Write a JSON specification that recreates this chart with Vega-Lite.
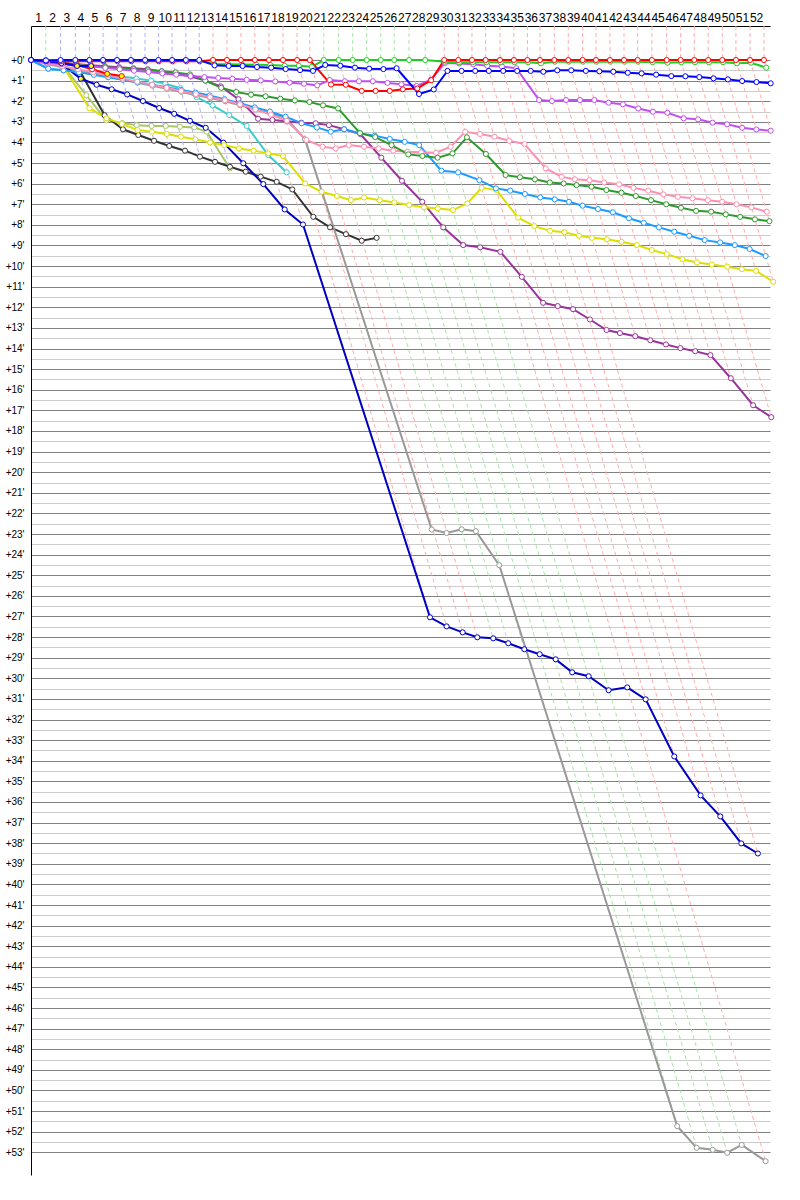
{
"$schema": "https://vega.github.io/schema/vega-lite/v6.json",
"width": 739, "height": 1149,
"padding": {"left": 31, "top": 26, "right": 30, "bottom": 25},
"autosize": {"type": "none"},
"background": "white",
"config": {"view": {"stroke": null}, "font": "Liberation Sans"},
"datasets": {
"vgrid": [{"t":1},{"t":2},{"t":3},{"t":4},{"t":5},{"t":6},{"t":7},{"t":8},{"t":9},{"t":10},{"t":11},{"t":12},{"t":13},{"t":14},{"t":15},{"t":16},{"t":17},{"t":18},{"t":19},{"t":20},{"t":21},{"t":22},{"t":23},{"t":24},{"t":25},{"t":26},{"t":27},{"t":28},{"t":29},{"t":30},{"t":31},{"t":32},{"t":33},{"t":34},{"t":35},{"t":36},{"t":37},{"t":38},{"t":39},{"t":40},{"t":41},{"t":42},{"t":43},{"t":44},{"t":45},{"t":46},{"t":47},{"t":48},{"t":49},{"t":50},{"t":51},{"t":52}],
"dash": [
{"n":1,"k":"G","t":1.05,"g":-1.65},{"n":1,"k":"G","t":1.05,"g":0},{"n":1,"k":"G","t":1.24,"g":0.44},
{"n":2,"k":"B","t":2.1,"g":-1.65},{"n":2,"k":"B","t":2.1,"g":0},{"n":2,"k":"B","t":2.31,"g":0.5},
{"n":3,"k":"B","t":3.15,"g":-1.65},{"n":3,"k":"B","t":3.15,"g":0},{"n":3,"k":"B","t":4.15,"g":2.34},
{"n":4,"k":"B","t":4.15,"g":-1.65},{"n":4,"k":"B","t":4.15,"g":0},{"n":4,"k":"B","t":5.35,"g":2.93},
{"n":5,"k":"B","t":5.12,"g":-1.65},{"n":5,"k":"B","t":5.12,"g":0},{"n":5,"k":"B","t":6.53,"g":3.36},
{"n":6,"k":"B","t":6.11,"g":-1.65},{"n":6,"k":"B","t":6.11,"g":0},{"n":6,"k":"B","t":7.62,"g":3.64},
{"n":7,"k":"B","t":7.1,"g":-1.65},{"n":7,"k":"B","t":7.1,"g":0},{"n":7,"k":"B","t":8.74,"g":3.92},
{"n":8,"k":"B","t":8.1,"g":-1.65},{"n":8,"k":"B","t":8.1,"g":0},{"n":8,"k":"B","t":9.82,"g":4.17},
{"n":9,"k":"B","t":9.05,"g":-1.65},{"n":9,"k":"B","t":9.05,"g":0},{"n":9,"k":"B","t":10.94,"g":4.4},
{"n":10,"k":"B","t":10.02,"g":-1.65},{"n":10,"k":"B","t":10.02,"g":0},{"n":10,"k":"B","t":12.0,"g":4.69},
{"n":11,"k":"B","t":11.0,"g":-1.65},{"n":11,"k":"B","t":11.0,"g":0},{"n":11,"k":"B","t":13.07,"g":4.94},
{"n":12,"k":"B","t":11.95,"g":-1.65},{"n":12,"k":"B","t":11.95,"g":0},{"n":12,"k":"B","t":14.13,"g":5.26},
{"n":13,"k":"R","t":12.93,"g":-1.65},{"n":13,"k":"R","t":12.93,"g":0},{"n":13,"k":"R","t":15.25,"g":5.42},
{"n":14,"k":"R","t":13.92,"g":-1.65},{"n":14,"k":"R","t":13.92,"g":0},{"n":14,"k":"R","t":16.5,"g":6.02},
{"n":15,"k":"R","t":14.91,"g":-1.65},{"n":15,"k":"R","t":14.91,"g":0},{"n":15,"k":"R","t":18.02,"g":7.25},
{"n":16,"k":"R","t":15.9,"g":-1.65},{"n":16,"k":"R","t":15.9,"g":0},{"n":16,"k":"R","t":19.32,"g":7.98},
{"n":17,"k":"R","t":16.9,"g":-1.65},{"n":17,"k":"R","t":16.9,"g":0},{"n":17,"k":"R","t":28.34,"g":27.04},
{"n":18,"k":"R","t":17.9,"g":-1.65},{"n":18,"k":"R","t":17.9,"g":0},{"n":18,"k":"R","t":29.52,"g":27.48},
{"n":19,"k":"R","t":18.9,"g":-1.65},{"n":19,"k":"R","t":18.9,"g":0},{"n":19,"k":"R","t":30.66,"g":27.77},
{"n":20,"k":"R","t":19.8,"g":-1.65},{"n":20,"k":"R","t":19.8,"g":0},{"n":20,"k":"R","t":31.7,"g":28.01},
{"n":21,"k":"G","t":20.8,"g":-1.65},{"n":21,"k":"G","t":20.8,"g":0},{"n":21,"k":"G","t":32.83,"g":28.06},
{"n":22,"k":"G","t":21.85,"g":-1.65},{"n":22,"k":"G","t":21.85,"g":0},{"n":22,"k":"G","t":33.9,"g":28.3},
{"n":23,"k":"G","t":22.85,"g":-1.65},{"n":23,"k":"G","t":22.85,"g":0},{"n":23,"k":"G","t":35.04,"g":28.59},
{"n":24,"k":"G","t":23.84,"g":-1.65},{"n":24,"k":"G","t":23.84,"g":0},{"n":24,"k":"G","t":45.9,"g":51.73},
{"n":25,"k":"G","t":24.84,"g":-1.65},{"n":25,"k":"G","t":24.84,"g":0},{"n":25,"k":"G","t":47.28,"g":52.78},
{"n":26,"k":"G","t":25.8,"g":-1.65},{"n":26,"k":"G","t":25.8,"g":0},{"n":26,"k":"G","t":48.42,"g":52.88},
{"n":27,"k":"G","t":26.85,"g":-1.65},{"n":27,"k":"G","t":26.85,"g":0},{"n":27,"k":"G","t":49.45,"g":53.02},
{"n":28,"k":"G","t":28.0,"g":-1.65},{"n":28,"k":"G","t":28.0,"g":0},{"n":28,"k":"G","t":50.48,"g":52.64},
{"n":29,"k":"R","t":29.35,"g":-1.65},{"n":29,"k":"R","t":29.35,"g":0},{"n":29,"k":"R","t":52.18,"g":53.43},
{"n":30,"k":"R","t":30.35,"g":-1.65},{"n":30,"k":"R","t":30.35,"g":0},{"n":30,"k":"R","t":43.66,"g":31.02},
{"n":31,"k":"R","t":31.32,"g":-1.65},{"n":31,"k":"R","t":31.32,"g":0},{"n":31,"k":"R","t":45.69,"g":33.79},
{"n":32,"k":"R","t":32.29,"g":-1.65},{"n":32,"k":"R","t":32.29,"g":0},{"n":32,"k":"R","t":47.56,"g":35.68},
{"n":33,"k":"R","t":33.31,"g":-1.65},{"n":33,"k":"R","t":33.31,"g":0},{"n":33,"k":"R","t":48.96,"g":36.7},
{"n":34,"k":"R","t":34.3,"g":-1.65},{"n":34,"k":"R","t":34.3,"g":0},{"n":34,"k":"R","t":50.45,"g":38.01},
{"n":35,"k":"R","t":35.26,"g":-1.65},{"n":35,"k":"R","t":35.26,"g":0},{"n":35,"k":"R","t":51.63,"g":38.5},
{"n":36,"k":"R","t":36.15,"g":-1.65},{"n":36,"k":"R","t":36.15,"g":0},{"n":36,"k":"R","t":41.83,"g":13.25},
{"n":37,"k":"R","t":37.17,"g":-1.65},{"n":37,"k":"R","t":37.17,"g":0},{"n":37,"k":"R","t":42.92,"g":13.4},
{"n":38,"k":"R","t":38.16,"g":-1.65},{"n":38,"k":"R","t":38.16,"g":0},{"n":38,"k":"R","t":43.99,"g":13.6},
{"n":39,"k":"R","t":39.18,"g":-1.65},{"n":39,"k":"R","t":39.18,"g":0},{"n":39,"k":"R","t":45.1,"g":13.8},
{"n":40,"k":"R","t":40.13,"g":-1.65},{"n":40,"k":"R","t":40.13,"g":0},{"n":40,"k":"R","t":46.13,"g":13.98},
{"n":41,"k":"R","t":41.12,"g":-1.65},{"n":41,"k":"R","t":41.12,"g":0},{"n":41,"k":"R","t":47.18,"g":14.13},
{"n":42,"k":"R","t":42.12,"g":-1.65},{"n":42,"k":"R","t":42.12,"g":0},{"n":42,"k":"R","t":48.26,"g":14.32},
{"n":43,"k":"R","t":43.09,"g":-1.65},{"n":43,"k":"R","t":43.09,"g":0},{"n":43,"k":"R","t":49.71,"g":15.44},
{"n":44,"k":"R","t":44.1,"g":-1.65},{"n":44,"k":"R","t":44.1,"g":0},{"n":44,"k":"R","t":51.29,"g":16.75},
{"n":45,"k":"R","t":45.15,"g":-1.65},{"n":45,"k":"R","t":45.15,"g":0},{"n":45,"k":"R","t":52.58,"g":17.33},
{"n":46,"k":"R","t":46.14,"g":-1.65},{"n":46,"k":"R","t":46.14,"g":0},{"n":46,"k":"R","t":50.49,"g":10.15},
{"n":47,"k":"R","t":47.11,"g":-1.65},{"n":47,"k":"R","t":47.11,"g":0},{"n":47,"k":"R","t":51.5,"g":10.23},
{"n":48,"k":"R","t":48.1,"g":-1.65},{"n":48,"k":"R","t":48.1,"g":0},{"n":48,"k":"R","t":52.72,"g":10.76},
{"n":49,"k":"R","t":49.1,"g":-1.65},{"n":49,"k":"R","t":49.1,"g":0},{"n":49,"k":"R","t":52.45,"g":7.82},
{"n":50,"k":"R","t":50.07,"g":-1.65},{"n":50,"k":"R","t":50.07,"g":0},{"n":50,"k":"R","t":51.52,"g":3.37},
{"n":51,"k":"R","t":51.07,"g":-1.65},{"n":51,"k":"R","t":51.07,"g":0},{"n":51,"k":"R","t":52.54,"g":3.43},
{"n":52,"k":"R","t":52.06,"g":-1.65},{"n":52,"k":"R","t":52.06,"g":0},{"n":52,"k":"R","t":52.54,"g":1.13}
],
"cars": [
{"c":"O","t":0,"g":0},{"c":"O","t":1.07,"g":0.05},{"c":"O","t":2.19,"g":0.2},{"c":"O","t":3.93,"g":1.71},{"c":"O","t":5.35,"g":2.93},{"c":"O","t":6.48,"g":3.06},{"c":"O","t":7.51,"g":3.16},{"c":"O","t":8.57,"g":3.2},{"c":"O","t":9.57,"g":3.2},{"c":"O","t":10.58,"g":3.24},{"c":"O","t":11.6,"g":3.27},{"c":"O","t":12.48,"g":3.48},{"c":"O","t":14.13,"g":5.26},
{"c":"C","t":0,"g":0},{"c":"C","t":1.24,"g":0.44},{"c":"C","t":2.31,"g":0.5},{"c":"C","t":3.39,"g":0.55},{"c":"C","t":4.41,"g":0.6},{"c":"C","t":5.42,"g":0.7},{"c":"C","t":6.45,"g":0.8},{"c":"C","t":7.49,"g":0.9},{"c":"C","t":8.53,"g":1.0},{"c":"C","t":9.54,"g":1.15},{"c":"C","t":10.61,"g":1.37},{"c":"C","t":11.77,"g":1.8},{"c":"C","t":12.89,"g":2.2},{"c":"C","t":14.08,"g":2.67},{"c":"C","t":15.32,"g":3.2},{"c":"C","t":16.85,"g":4.61},{"c":"C","t":18.16,"g":5.45},
{"c":"K","t":0,"g":0},{"c":"K","t":1.07,"g":0.05},{"c":"K","t":2.16,"g":0.15},{"c":"K","t":3.28,"g":0.3},{"c":"K","t":5.23,"g":2.68},{"c":"K","t":6.53,"g":3.36},{"c":"K","t":7.62,"g":3.64},{"c":"K","t":8.74,"g":3.92},{"c":"K","t":9.82,"g":4.17},{"c":"K","t":10.94,"g":4.4},{"c":"K","t":12.0,"g":4.69},{"c":"K","t":13.07,"g":4.94},{"c":"K","t":14.13,"g":5.18},{"c":"K","t":15.25,"g":5.42},{"c":"K","t":16.31,"g":5.66},{"c":"K","t":17.45,"g":5.91},{"c":"K","t":18.56,"g":6.28},{"c":"K","t":20.05,"g":7.61},{"c":"K","t":21.24,"g":8.12},{"c":"K","t":22.37,"g":8.45},{"c":"K","t":23.49,"g":8.77},{"c":"K","t":24.55,"g":8.63},
{"c":"GR","t":0,"g":0},{"c":"GR","t":1.14,"g":0.2},{"c":"GR","t":2.25,"g":0.35},{"c":"GR","t":3.36,"g":0.5},{"c":"GR","t":4.43,"g":0.65},{"c":"GR","t":5.46,"g":0.8},{"c":"GR","t":6.52,"g":0.95},{"c":"GR","t":7.57,"g":1.1},{"c":"GR","t":8.64,"g":1.25},{"c":"GR","t":9.65,"g":1.4},{"c":"GR","t":10.68,"g":1.55},{"c":"GR","t":11.73,"g":1.7},{"c":"GR","t":12.74,"g":1.85},{"c":"GR","t":13.79,"g":2.0},{"c":"GR","t":14.86,"g":2.2},{"c":"GR","t":15.94,"g":2.4},{"c":"GR","t":17.02,"g":2.6},{"c":"GR","t":18.1,"g":2.8},{"c":"GR","t":19.46,"g":3.85},{"c":"GR","t":28.46,"g":22.78},{"c":"GR","t":29.52,"g":22.95},{"c":"GR","t":30.59,"g":22.77},{"c":"GR","t":31.6,"g":22.86},{"c":"GR","t":33.26,"g":24.51},{"c":"GR","t":45.9,"g":51.73},{"c":"GR","t":47.28,"g":52.78},{"c":"GR","t":48.42,"g":52.88},{"c":"GR","t":49.45,"g":53.02},{"c":"GR","t":50.48,"g":52.64},{"c":"GR","t":52.18,"g":53.43},
{"c":"N","t":0,"g":0},{"c":"N","t":1.07,"g":0.05},{"c":"N","t":2.19,"g":0.2},{"c":"N","t":3.54,"g":0.91,"f":1},{"c":"N","t":4.66,"g":1.2},{"c":"N","t":5.73,"g":1.42},{"c":"N","t":6.83,"g":1.67},{"c":"N","t":7.95,"g":1.99},{"c":"N","t":9.1,"g":2.33},{"c":"N","t":10.17,"g":2.61},{"c":"N","t":11.29,"g":2.95},{"c":"N","t":12.41,"g":3.29},{"c":"N","t":13.67,"g":4.01},{"c":"N","t":15.08,"g":5.01},{"c":"N","t":16.5,"g":6.02},{"c":"N","t":18.02,"g":7.25},{"c":"N","t":19.32,"g":7.98},{"c":"N","t":28.34,"g":27.04},{"c":"N","t":29.52,"g":27.48},{"c":"N","t":30.66,"g":27.77},{"c":"N","t":31.7,"g":28.01},{"c":"N","t":32.83,"g":28.06},{"c":"N","t":33.9,"g":28.3},{"c":"N","t":35.04,"g":28.59},{"c":"N","t":36.13,"g":28.83},{"c":"N","t":37.27,"g":29.08},{"c":"N","t":38.44,"g":29.71},{"c":"N","t":39.61,"g":29.9},{"c":"N","t":41.03,"g":30.58},{"c":"N","t":42.35,"g":30.44},{"c":"N","t":43.66,"g":31.02},{"c":"N","t":45.69,"g":33.79},{"c":"N","t":47.56,"g":35.68},{"c":"N","t":48.96,"g":36.7},{"c":"N","t":50.45,"g":38.01},{"c":"N","t":51.63,"g":38.5},
{"c":"PU","t":0,"g":0},{"c":"PU","t":1.09,"g":0.1},{"c":"PU","t":2.16,"g":0.15},{"c":"PU","t":3.24,"g":0.2},{"c":"PU","t":4.26,"g":0.25},{"c":"PU","t":5.25,"g":0.3},{"c":"PU","t":6.26,"g":0.35},{"c":"PU","t":7.27,"g":0.4},{"c":"PU","t":8.29,"g":0.45},{"c":"PU","t":9.29,"g":0.55},{"c":"PU","t":10.3,"g":0.65},{"c":"PU","t":11.34,"g":0.8},{"c":"PU","t":12.38,"g":1.0},{"c":"PU","t":13.48,"g":1.28},{"c":"PU","t":14.74,"g":1.9},{"c":"PU","t":16.13,"g":2.85},{"c":"PU","t":17.15,"g":2.91},{"c":"PU","t":18.17,"g":2.97},{"c":"PU","t":19.2,"g":3.04},{"c":"PU","t":20.22,"g":3.07},{"c":"PU","t":21.16,"g":3.16},{"c":"PU","t":22.24,"g":3.36},{"c":"PU","t":23.39,"g":3.59},{"c":"PU","t":24.88,"g":4.74},{"c":"PU","t":26.35,"g":5.86},{"c":"PU","t":27.79,"g":6.88},{"c":"PU","t":29.28,"g":8.12},{"c":"PU","t":30.7,"g":8.98},{"c":"PU","t":31.9,"g":9.09},{"c":"PU","t":33.34,"g":9.31},{"c":"PU","t":34.86,"g":10.52},{"c":"PU","t":36.37,"g":11.78},{"c":"PU","t":37.41,"g":11.94},{"c":"PU","t":38.5,"g":12.09},{"c":"PU","t":39.7,"g":12.59},{"c":"PU","t":40.88,"g":13.1},{"c":"PU","t":41.83,"g":13.25},{"c":"PU","t":42.92,"g":13.4},{"c":"PU","t":43.99,"g":13.6},{"c":"PU","t":45.1,"g":13.8},{"c":"PU","t":46.13,"g":13.98},{"c":"PU","t":47.18,"g":14.13},{"c":"PU","t":48.26,"g":14.32},{"c":"PU","t":49.71,"g":15.44},{"c":"PU","t":51.29,"g":16.75},{"c":"PU","t":52.58,"g":17.33},
{"c":"Y","t":0,"g":0},{"c":"Y","t":1.07,"g":0.05},{"c":"Y","t":2.19,"g":0.2},{"c":"Y","t":4.15,"g":2.34},{"c":"Y","t":5.36,"g":2.83},{"c":"Y","t":6.45,"g":3.1},{"c":"Y","t":7.57,"g":3.4},{"c":"Y","t":8.59,"g":3.48},{"c":"Y","t":9.64,"g":3.59},{"c":"Y","t":10.65,"g":3.72},{"c":"Y","t":11.67,"g":3.85},{"c":"Y","t":12.72,"g":4.0},{"c":"Y","t":13.72,"g":4.13},{"c":"Y","t":14.77,"g":4.29},{"c":"Y","t":15.81,"g":4.4},{"c":"Y","t":16.85,"g":4.53},{"c":"Y","t":17.9,"g":4.66},{"c":"Y","t":19.47,"g":5.99},{"c":"Y","t":20.64,"g":6.39},{"c":"Y","t":21.73,"g":6.6},{"c":"Y","t":22.72,"g":6.8},{"c":"Y","t":23.66,"g":6.67},{"c":"Y","t":24.77,"g":6.8},{"c":"Y","t":25.81,"g":6.91},{"c":"Y","t":26.86,"g":7.04},{"c":"Y","t":27.91,"g":7.15},{"c":"Y","t":28.89,"g":7.2},{"c":"Y","t":29.97,"g":7.28},{"c":"Y","t":30.99,"g":6.96},{"c":"Y","t":32.01,"g":6.2},{"c":"Y","t":33.06,"g":6.31},{"c":"Y","t":34.6,"g":7.65},{"c":"Y","t":35.75,"g":8.06},{"c":"Y","t":36.87,"g":8.29},{"c":"Y","t":37.89,"g":8.36},{"c":"Y","t":38.92,"g":8.53},{"c":"Y","t":39.85,"g":8.63},{"c":"Y","t":40.9,"g":8.7},{"c":"Y","t":41.94,"g":8.82},{"c":"Y","t":43.03,"g":8.98},{"c":"Y","t":44.09,"g":9.22},{"c":"Y","t":45.16,"g":9.42},{"c":"Y","t":46.27,"g":9.67},{"c":"Y","t":47.3,"g":9.82},{"c":"Y","t":48.36,"g":9.92},{"c":"Y","t":49.45,"g":10.03},{"c":"Y","t":50.49,"g":10.15},{"c":"Y","t":51.5,"g":10.23},{"c":"Y","t":52.72,"g":10.76},
{"c":"LB","t":0,"g":0},{"c":"LB","t":1.23,"g":0.42},{"c":"LB","t":2.31,"g":0.5},{"c":"LB","t":3.41,"g":0.6},{"c":"LB","t":4.46,"g":0.72},{"c":"LB","t":5.48,"g":0.84},{"c":"LB","t":6.52,"g":0.96},{"c":"LB","t":7.56,"g":1.08},{"c":"LB","t":8.61,"g":1.2},{"c":"LB","t":9.62,"g":1.32},{"c":"LB","t":10.64,"g":1.45},{"c":"LB","t":11.68,"g":1.58},{"c":"LB","t":12.69,"g":1.72},{"c":"LB","t":13.75,"g":1.9},{"c":"LB","t":14.82,"g":2.1},{"c":"LB","t":15.9,"g":2.3},{"c":"LB","t":16.97,"g":2.5},{"c":"LB","t":18.08,"g":2.75},{"c":"LB","t":19.22,"g":3.07},{"c":"LB","t":20.3,"g":3.27},{"c":"LB","t":21.29,"g":3.48},{"c":"LB","t":22.24,"g":3.36},{"c":"LB","t":23.38,"g":3.56},{"c":"LB","t":24.42,"g":3.67},{"c":"LB","t":25.48,"g":3.83},{"c":"LB","t":26.54,"g":3.97},{"c":"LB","t":27.57,"g":4.13},{"c":"LB","t":29.15,"g":5.37},{"c":"LB","t":30.34,"g":5.45},{"c":"LB","t":31.85,"g":5.83},{"c":"LB","t":33.02,"g":6.23},{"c":"LB","t":34.04,"g":6.34},{"c":"LB","t":35.08,"g":6.5},{"c":"LB","t":36.17,"g":6.67},{"c":"LB","t":37.2,"g":6.76},{"c":"LB","t":38.21,"g":6.88},{"c":"LB","t":39.18,"g":7.07},{"c":"LB","t":40.27,"g":7.23},{"c":"LB","t":41.33,"g":7.39},{"c":"LB","t":42.47,"g":7.68},{"c":"LB","t":43.52,"g":7.9},{"c":"LB","t":44.6,"g":8.12},{"c":"LB","t":45.69,"g":8.33},{"c":"LB","t":46.75,"g":8.53},{"c":"LB","t":47.85,"g":8.74},{"c":"LB","t":48.95,"g":8.85},{"c":"LB","t":49.99,"g":8.98},{"c":"LB","t":51.04,"g":9.17},{"c":"LB","t":52.18,"g":9.51},
{"c":"P","t":0,"g":0},{"c":"P","t":1.11,"g":0.15},{"c":"P","t":2.23,"g":0.3},{"c":"P","t":3.34,"g":0.45},{"c":"P","t":4.41,"g":0.6},{"c":"P","t":5.44,"g":0.75},{"c":"P","t":6.5,"g":0.9},{"c":"P","t":7.55,"g":1.05},{"c":"P","t":8.61,"g":1.2},{"c":"P","t":9.63,"g":1.35},{"c":"P","t":10.66,"g":1.5},{"c":"P","t":11.71,"g":1.65},{"c":"P","t":12.72,"g":1.8},{"c":"P","t":13.77,"g":1.95},{"c":"P","t":14.84,"g":2.15},{"c":"P","t":15.94,"g":2.4},{"c":"P","t":17.04,"g":2.65},{"c":"P","t":18.17,"g":2.95},{"c":"P","t":19.56,"g":3.88},{"c":"P","t":20.71,"g":4.21},{"c":"P","t":21.64,"g":4.29},{"c":"P","t":22.57,"g":4.13},{"c":"P","t":23.66,"g":4.21},{"c":"P","t":24.69,"g":4.29},{"c":"P","t":25.73,"g":4.4},{"c":"P","t":26.75,"g":4.45},{"c":"P","t":27.72,"g":4.48},{"c":"P","t":28.78,"g":4.5},{"c":"P","t":29.81,"g":4.21},{"c":"P","t":30.84,"g":3.48},{"c":"P","t":31.89,"g":3.59},{"c":"P","t":32.92,"g":3.72},{"c":"P","t":33.97,"g":3.92},{"c":"P","t":35.06,"g":4.08},{"c":"P","t":36.56,"g":5.26},{"c":"P","t":37.69,"g":5.67},{"c":"P","t":38.63,"g":5.79},{"c":"P","t":39.67,"g":5.83},{"c":"P","t":40.71,"g":5.94},{"c":"P","t":41.77,"g":6.03},{"c":"P","t":42.79,"g":6.2},{"c":"P","t":43.84,"g":6.34},{"c":"P","t":44.92,"g":6.52},{"c":"P","t":45.94,"g":6.64},{"c":"P","t":46.98,"g":6.71},{"c":"P","t":48.07,"g":6.8},{"c":"P","t":49.09,"g":6.88},{"c":"P","t":50.11,"g":7.0},{"c":"P","t":51.17,"g":7.15},{"c":"P","t":52.26,"g":7.36},
{"c":"DG","t":0,"g":0},{"c":"DG","t":1.08,"g":0.08},{"c":"DG","t":2.16,"g":0.15},{"c":"DG","t":3.24,"g":0.2},{"c":"DG","t":4.28,"g":0.3},{"c":"DG","t":5.27,"g":0.35},{"c":"DG","t":6.28,"g":0.4},{"c":"DG","t":7.29,"g":0.45},{"c":"DG","t":8.31,"g":0.5},{"c":"DG","t":9.29,"g":0.55},{"c":"DG","t":10.28,"g":0.6},{"c":"DG","t":11.3,"g":0.7},{"c":"DG","t":12.38,"g":1.0},{"c":"DG","t":13.51,"g":1.35},{"c":"DG","t":14.58,"g":1.55},{"c":"DG","t":15.63,"g":1.68},{"c":"DG","t":16.66,"g":1.76},{"c":"DG","t":17.71,"g":1.88},{"c":"DG","t":18.74,"g":1.96},{"c":"DG","t":19.78,"g":2.04},{"c":"DG","t":20.74,"g":2.2},{"c":"DG","t":21.81,"g":2.35},{"c":"DG","t":23.37,"g":3.55},{"c":"DG","t":24.45,"g":3.74},{"c":"DG","t":25.61,"g":4.13},{"c":"DG","t":26.8,"g":4.58},{"c":"DG","t":27.8,"g":4.66},{"c":"DG","t":28.88,"g":4.74},{"c":"DG","t":29.94,"g":4.53},{"c":"DG","t":30.96,"g":3.75},{"c":"DG","t":32.31,"g":4.56},{"c":"DG","t":33.71,"g":5.58},{"c":"DG","t":34.73,"g":5.69},{"c":"DG","t":35.79,"g":5.79},{"c":"DG","t":36.85,"g":5.94},{"c":"DG","t":37.83,"g":5.99},{"c":"DG","t":38.75,"g":6.07},{"c":"DG","t":39.81,"g":6.15},{"c":"DG","t":40.87,"g":6.31},{"c":"DG","t":41.94,"g":6.44},{"c":"DG","t":42.96,"g":6.6},{"c":"DG","t":44.04,"g":6.8},{"c":"DG","t":45.12,"g":7.0},{"c":"DG","t":46.17,"g":7.17},{"c":"DG","t":47.24,"g":7.32},{"c":"DG","t":48.31,"g":7.36},{"c":"DG","t":49.35,"g":7.49},{"c":"DG","t":50.37,"g":7.61},{"c":"DG","t":51.42,"g":7.73},{"c":"DG","t":52.45,"g":7.82},
{"c":"V","t":0,"g":0},{"c":"V","t":1.1,"g":0.12},{"c":"V","t":2.19,"g":0.2},{"c":"V","t":3.26,"g":0.25},{"c":"V","t":4.28,"g":0.3},{"c":"V","t":5.28,"g":0.38},{"c":"V","t":6.3,"g":0.45},{"c":"V","t":7.32,"g":0.52},{"c":"V","t":8.35,"g":0.58},{"c":"V","t":9.33,"g":0.65},{"c":"V","t":10.32,"g":0.71},{"c":"V","t":11.33,"g":0.78},{"c":"V","t":12.31,"g":0.83},{"c":"V","t":13.3,"g":0.87},{"c":"V","t":14.31,"g":0.91},{"c":"V","t":15.32,"g":0.96},{"c":"V","t":16.32,"g":0.99},{"c":"V","t":17.35,"g":1.04},{"c":"V","t":18.37,"g":1.1},{"c":"V","t":19.39,"g":1.15},{"c":"V","t":20.33,"g":1.23},{"c":"V","t":21.22,"g":0.97},{"c":"V","t":22.29,"g":1.03},{"c":"V","t":23.29,"g":1.03},{"c":"V","t":24.28,"g":1.03},{"c":"V","t":25.32,"g":1.11},{"c":"V","t":26.31,"g":1.18},{"c":"V","t":27.39,"g":1.26},{"c":"V","t":28.41,"g":0.95},{"c":"V","t":29.41,"g":0.14},{"c":"V","t":30.42,"g":0.17},{"c":"V","t":31.41,"g":0.21},{"c":"V","t":32.41,"g":0.28},{"c":"V","t":33.45,"g":0.32},{"c":"V","t":34.47,"g":0.4},{"c":"V","t":36.09,"g":1.94},{"c":"V","t":37.0,"g":1.99},{"c":"V","t":38.0,"g":1.94},{"c":"V","t":38.99,"g":1.94},{"c":"V","t":40.01,"g":1.94},{"c":"V","t":41.02,"g":2.07},{"c":"V","t":42.04,"g":2.15},{"c":"V","t":43.13,"g":2.35},{"c":"V","t":44.17,"g":2.51},{"c":"V","t":45.2,"g":2.56},{"c":"V","t":46.36,"g":2.83},{"c":"V","t":47.38,"g":2.88},{"c":"V","t":48.41,"g":3.04},{"c":"V","t":49.44,"g":3.12},{"c":"V","t":50.51,"g":3.29},{"c":"V","t":51.52,"g":3.37},{"c":"V","t":52.54,"g":3.43},
{"c":"R2","t":0,"g":0},{"c":"R2","t":1.07,"g":0.05},{"c":"R2","t":2.15,"g":0.12},{"c":"R2","t":3.26,"g":0.25},{"c":"R2","t":4.34,"g":0.45},{"c":"R2","t":5.41,"g":0.67,"f":1},{"c":"R2","t":6.44,"g":0.78,"f":1},
{"c":"B2","t":0,"g":0},{"c":"B2","t":1.07,"g":0.05},{"c":"B2","t":2.16,"g":0.15},{"c":"B2","t":3.27,"g":0.29,"f":1},{"c":"B2","t":4.27,"g":0.29,"f":1},
{"c":"G","t":0,"g":0},{"c":"G","t":1.05,"g":0,"f":1},{"c":"G","t":2.11,"g":0.03},{"c":"G","t":3.16,"g":0.03},{"c":"G","t":4.16,"g":0.03},{"c":"G","t":5.13,"g":0.03},{"c":"G","t":6.12,"g":0.03},{"c":"G","t":7.11,"g":0.03},{"c":"G","t":8.11,"g":0.03},{"c":"G","t":9.06,"g":0.03},{"c":"G","t":10.03,"g":0.03},{"c":"G","t":11.01,"g":0.03},{"c":"G","t":11.96,"g":0.03},{"c":"G","t":13.01,"g":0.19},{"c":"G","t":14.01,"g":0.2},{"c":"G","t":15.0,"g":0.22},{"c":"G","t":16.0,"g":0.23},{"c":"G","t":17.0,"g":0.24},{"c":"G","t":18.02,"g":0.28},{"c":"G","t":19.02,"g":0.28},{"c":"G","t":19.94,"g":0.33},{"c":"G","t":20.8,"g":0},{"c":"G","t":21.85,"g":0},{"c":"G","t":22.85,"g":0},{"c":"G","t":23.84,"g":0},{"c":"G","t":24.84,"g":0},{"c":"G","t":25.8,"g":0},{"c":"G","t":26.85,"g":0},{"c":"G","t":28.0,"g":0},{"c":"G","t":29.38,"g":0.08},{"c":"G","t":30.4,"g":0.11},{"c":"G","t":31.37,"g":0.11},{"c":"G","t":32.34,"g":0.11},{"c":"G","t":33.36,"g":0.11},{"c":"G","t":34.35,"g":0.11},{"c":"G","t":35.31,"g":0.11},{"c":"G","t":36.22,"g":0.16},{"c":"G","t":37.2,"g":0.08},{"c":"G","t":38.19,"g":0.08},{"c":"G","t":39.21,"g":0.08},{"c":"G","t":40.16,"g":0.08},{"c":"G","t":41.15,"g":0.08},{"c":"G","t":42.15,"g":0.08},{"c":"G","t":43.12,"g":0.08},{"c":"G","t":44.15,"g":0.11},{"c":"G","t":45.21,"g":0.13},{"c":"G","t":46.19,"g":0.11},{"c":"G","t":47.16,"g":0.11},{"c":"G","t":48.15,"g":0.11},{"c":"G","t":49.15,"g":0.11},{"c":"G","t":50.14,"g":0.16},{"c":"G","t":51.13,"g":0.13},{"c":"G","t":52.22,"g":0.37},
{"c":"R","t":0,"g":0},{"c":"R","t":1.06,"g":0.03},{"c":"R","t":2.13,"g":0.06},{"c":"R","t":3.18,"g":0.06},{"c":"R","t":4.18,"g":0.06},{"c":"R","t":5.15,"g":0.06},{"c":"R","t":6.14,"g":0.06},{"c":"R","t":7.13,"g":0.06},{"c":"R","t":8.13,"g":0.06},{"c":"R","t":9.08,"g":0.06},{"c":"R","t":10.05,"g":0.06},{"c":"R","t":11.03,"g":0.06},{"c":"R","t":11.98,"g":0.06},{"c":"R","t":12.93,"g":0},{"c":"R","t":13.92,"g":0},{"c":"R","t":14.91,"g":0},{"c":"R","t":15.9,"g":0},{"c":"R","t":16.9,"g":0},{"c":"R","t":17.9,"g":0},{"c":"R","t":18.9,"g":0},{"c":"R","t":19.8,"g":0},{"c":"R","t":21.31,"g":1.19},{"c":"R","t":22.36,"g":1.2},{"c":"R","t":23.49,"g":1.5},{"c":"R","t":24.48,"g":1.5},{"c":"R","t":25.48,"g":1.5},{"c":"R","t":26.41,"g":1.42},{"c":"R","t":27.44,"g":1.38},{"c":"R","t":28.42,"g":0.98},{"c":"R","t":29.35,"g":0},{"c":"R","t":30.35,"g":0},{"c":"R","t":31.32,"g":0},{"c":"R","t":32.29,"g":0},{"c":"R","t":33.31,"g":0},{"c":"R","t":34.3,"g":0},{"c":"R","t":35.26,"g":0},{"c":"R","t":36.15,"g":0},{"c":"R","t":37.17,"g":0},{"c":"R","t":38.16,"g":0},{"c":"R","t":39.18,"g":0},{"c":"R","t":40.13,"g":0},{"c":"R","t":41.12,"g":0},{"c":"R","t":42.12,"g":0},{"c":"R","t":43.09,"g":0},{"c":"R","t":44.1,"g":0},{"c":"R","t":45.15,"g":0},{"c":"R","t":46.14,"g":0},{"c":"R","t":47.11,"g":0},{"c":"R","t":48.1,"g":0},{"c":"R","t":49.1,"g":0},{"c":"R","t":50.07,"g":0},{"c":"R","t":51.07,"g":0},{"c":"R","t":52.06,"g":0},
{"c":"B","t":0,"g":0},{"c":"B","t":1.06,"g":0.02},{"c":"B","t":2.1,"g":0},{"c":"B","t":3.15,"g":0},{"c":"B","t":4.15,"g":0},{"c":"B","t":5.12,"g":0},{"c":"B","t":6.11,"g":0},{"c":"B","t":7.1,"g":0},{"c":"B","t":8.1,"g":0},{"c":"B","t":9.05,"g":0},{"c":"B","t":10.02,"g":0},{"c":"B","t":11.0,"g":0},{"c":"B","t":11.95,"g":0},{"c":"B","t":13.04,"g":0.26},{"c":"B","t":14.04,"g":0.29},{"c":"B","t":15.03,"g":0.29},{"c":"B","t":16.05,"g":0.34},{"c":"B","t":17.06,"g":0.37},{"c":"B","t":18.09,"g":0.44},{"c":"B","t":19.11,"g":0.49},{"c":"B","t":20.03,"g":0.53},{"c":"B","t":20.9,"g":0.24},{"c":"B","t":21.97,"g":0.28},{"c":"B","t":23.01,"g":0.37},{"c":"B","t":24.02,"g":0.42},{"c":"B","t":25.03,"g":0.44},{"c":"B","t":25.97,"g":0.4},{"c":"B","t":27.56,"g":1.65},{"c":"B","t":28.61,"g":1.43},{"c":"B","t":29.58,"g":0.53},{"c":"B","t":30.58,"g":0.53},{"c":"B","t":31.55,"g":0.53},{"c":"B","t":32.52,"g":0.53},{"c":"B","t":33.54,"g":0.53},{"c":"B","t":34.53,"g":0.53},{"c":"B","t":35.49,"g":0.53},{"c":"B","t":36.39,"g":0.57},{"c":"B","t":37.38,"g":0.5},{"c":"B","t":38.37,"g":0.5},{"c":"B","t":39.41,"g":0.53},{"c":"B","t":40.37,"g":0.55},{"c":"B","t":41.36,"g":0.57},{"c":"B","t":42.39,"g":0.62},{"c":"B","t":43.37,"g":0.65},{"c":"B","t":44.4,"g":0.71},{"c":"B","t":45.48,"g":0.78},{"c":"B","t":46.48,"g":0.79},{"c":"B","t":47.47,"g":0.83},{"c":"B","t":48.48,"g":0.89},{"c":"B","t":49.5,"g":0.94},{"c":"B","t":50.51,"g":1.02},{"c":"B","t":51.53,"g":1.07},{"c":"B","t":52.54,"g":1.13}
]
},
"encoding": {
 "x": {"field": "t", "type": "quantitative", "title": null,
  "scale": {"domain": [0, 52.49], "nice": false, "zero": false},
  "axis": {"orient": "top", "values": [1,2,3,4,5,6,7,8,9,10,11,12,13,14,15,16,17,18,19,20,21,22,23,24,25,26,27,28,29,30,31,32,33,34,35,36,37,38,39,40,41,42,43,44,45,46,47,48,49,50,51,52],
   "format": "d", "labelOffset": -7, "grid": false, "ticks": false, "domain": true, "domainColor": "#000000", "domainWidth": 1,
   "labelFont": "Liberation Sans", "labelFontSize": 12, "labelColor": "#000000", "labelPadding": 2,
   "labelOverlap": false, "labelFlush": false, "labelBound": false, "title": null}},
 "y": {"field": "g", "type": "quantitative", "title": null,
  "scale": {"domain": [-1.65, 54.1], "reverse": true, "nice": false, "zero": false},
  "axis": {"orient": "left",
   "values": [0,0.5,1,1.5,2,2.5,3,3.5,4,4.5,5,5.5,6,6.5,7,7.5,8,8.5,9,9.5,10,10.5,11,11.5,12,12.5,13,13.5,14,14.5,15,15.5,16,16.5,17,17.5,18,18.5,19,19.5,20,20.5,21,21.5,22,22.5,23,23.5,24,24.5,25,25.5,26,26.5,27,27.5,28,28.5,29,29.5,30,30.5,31,31.5,32,32.5,33,33.5,34,34.5,35,35.5,36,36.5,37,37.5,38,38.5,39,39.5,40,40.5,41,41.5,42,42.5,43,43.5,44,44.5,45,45.5,46,46.5,47,47.5,48,48.5,49,49.5,50,50.5,51,51.5,52,52.5,53],
   "labelExpr": "datum.value % 1 === 0 ? '+' + datum.value + \"'\" : ''",
   "grid": true, "gridColor": {"condition": {"test": "datum.value % 1 === 0", "value": "#808080"}, "value": "#cccccc"}, "gridWidth": 1,
   "ticks": false, "domain": true, "domainColor": "#000000", "domainWidth": 1,
   "labelFont": "Liberation Sans", "labelFontSize": 10, "labelColor": "#000000", "labelPadding": 7,
   "labelOverlap": false, "labelFlush": false, "labelBound": false, "title": null}}
},
"layer": [
{"data": {"name": "vgrid"},
 "mark": {"type": "rule", "color": "#cccccc", "strokeWidth": 1},
 "encoding": {
  "y": {"datum": 0, "type": "quantitative", "title": null},
  "y2": {"datum": 54.1}
 }},
{"data": {"name": "dash"},
 "mark": {"type": "line", "strokeWidth": 1, "strokeDash": [4, 3]},
 "encoding": {
  "detail": {"field": "n", "type": "nominal"},
  "order": {"field": "g", "type": "quantitative"},
  "color": {"field": "k", "type": "nominal", "scale": {"domain": ["B", "G", "R"], "range": ["#b0b0ff", "#a8e4a8", "#ffacac"]}, "legend": null}
 }},
{"data": {"name": "cars"},
 "mark": {"type": "line", "strokeWidth": 2},
 "encoding": {
  "order": {"field": "t", "type": "quantitative"},
  "stroke": {"field": "c", "type": "nominal",
   "scale": {"domain": ["O","C","K","GR","N","PU","Y","LB","P","DG","V","R2","B2","G","R","B"],
    "range": ["#a8c864","#3ccccc","#333333","#999999","#0000c0","#993399","#dede00","#1e9bff","#ff8fb0","#2e9a2e","#c050f0","#ff0000","#0000ff","#22cc22","#ff0000","#0000ff"]},
   "legend": null}
 }},
{"data": {"name": "cars"},
 "mark": {"type": "point", "shape": "circle", "size": 26, "strokeWidth": 1, "filled": true, "opacity": 1},
 "encoding": {
  "stroke": {"field": "c", "type": "nominal", "legend": null},
  "fill": {"condition": {"test": "datum.f === 1", "value": "#ffff00"}, "value": "#ffffff"}
 }},
{"data": {"values": [{}]},
 "mark": {"type": "point", "shape": "M-1,-0.45L1,0L-1,0.45Z", "size": 144, "filled": true, "color": "#000000", "opacity": 1, "strokeWidth": 0},
 "encoding": {"x": {"datum": 52.63, "type": "quantitative", "title": null}, "y": {"datum": -1.65, "type": "quantitative", "title": null}}},
{"data": {"values": [{}]},
 "mark": {"type": "point", "shape": "M-0.45,-1L0.45,-1L0,1Z", "size": 144, "filled": true, "color": "#000000", "opacity": 1, "strokeWidth": 0},
 "encoding": {"x": {"datum": 0, "type": "quantitative", "title": null}, "y": {"datum": 53.86, "type": "quantitative", "title": null}}},
{"data": {"values": [{}]},
 "mark": {"type": "text", "text": "Time", "font": "Liberation Sans", "fontSize": 15, "align": "center", "baseline": "alphabetic", "color": "#000000"},
 "encoding": {"x": {"datum": 51.78, "type": "quantitative", "title": null}, "y": {"datum": -0.97, "type": "quantitative", "title": null}}},
{"data": {"values": [{}]},
 "mark": {"type": "text", "text": "Gap", "font": "Liberation Sans", "fontSize": 15, "align": "center", "baseline": "alphabetic", "color": "#000000"},
 "encoding": {"x": {"datum": -0.43, "type": "quantitative", "title": null}, "y": {"datum": 54.73, "type": "quantitative", "title": null}}}
]
}
